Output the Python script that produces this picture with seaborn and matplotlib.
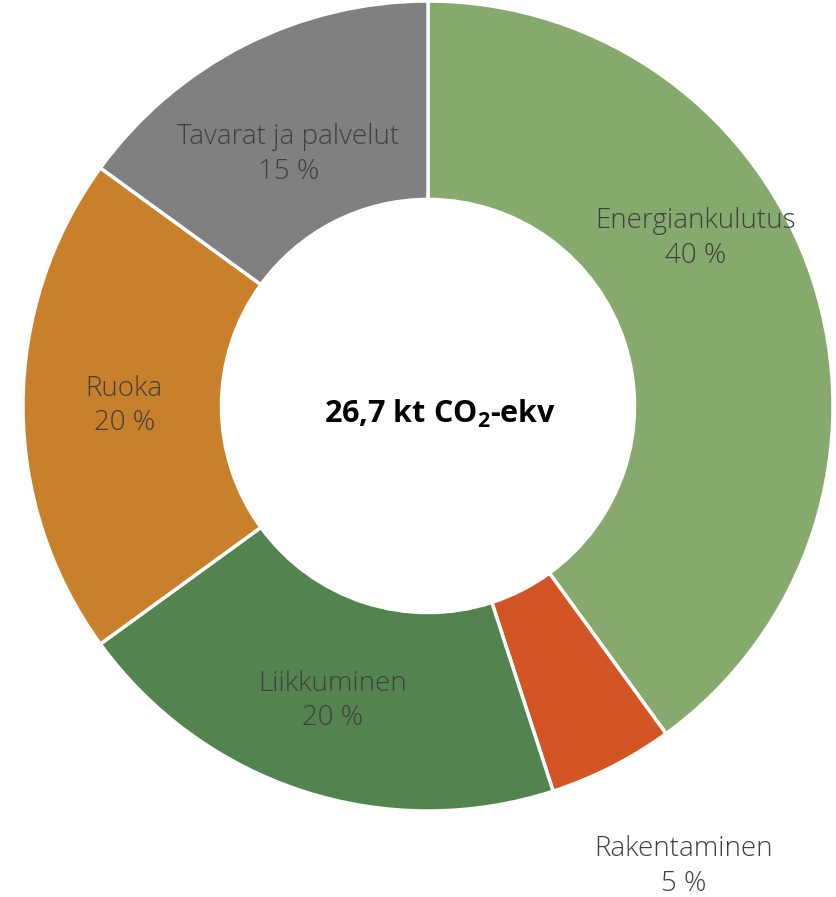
import numpy as np
import matplotlib
matplotlib.use("Agg")
import matplotlib.pyplot as plt
import seaborn as sns

categories = ["Energiankulutus", "Rakentaminen", "Liikkuminen", "Ruoka", "Tavarat ja palvelut"]
shares = [40, 5, 20, 20, 15]
colors = ["#86aa6d", "#d35424", "#538450", "#c8802a", "#808080"]
center_text = "26,7 kt CO$_\\mathbf{2}$-ekv"

sns.set_theme(style="white")
plt.rcParams["font.family"] = ["Open Sans", "DejaVu Sans"]
plt.rcParams["mathtext.fontset"] = "custom"
plt.rcParams["mathtext.bf"] = "Open Sans:bold"
plt.rcParams["mathtext.rm"] = "Open Sans:bold"

fig = plt.figure(figsize=(8.36, 8.97), dpi=100)
ax = fig.add_axes([0, 0, 1, 1])

wedges, _ = ax.pie(shares, colors=colors, startangle=90, counterclock=False,
                   radius=1.0, wedgeprops=dict(width=0.49, edgecolor="white", linewidth=2.5))

# label placement: radius and angle nudge per slice (Excel-ish positions)
label_r = [0.78, 1.3, 0.765, 0.75, 0.71]
label_shift = [14, 2, 0, 0, 2]
total = sum(shares)
cum = 0
for name, val, r, sh in zip(categories, shares, label_r, label_shift):
    mid = 90 - (cum + val / 2) / total * 360 + sh
    cum += val
    x = r * np.cos(np.radians(mid))
    y = r * np.sin(np.radians(mid))
    ax.text(x, y, f"{name}\n{val} %", ha="center", va="center", fontsize=20,
            color="#404040", fontweight="light", linespacing=1.3)

ax.text(0.03, -0.02, center_text, ha="center", va="center", fontsize=22,
        fontweight="bold", color="black")

ax.set_xlim(-428 / 405, (836 - 428) / 405)
ax.set_ylim(-(897 - 406) / 405, 406 / 405)
ax.set_aspect("equal")
ax.axis("off")

fig.savefig("out.png", dpi=100)
